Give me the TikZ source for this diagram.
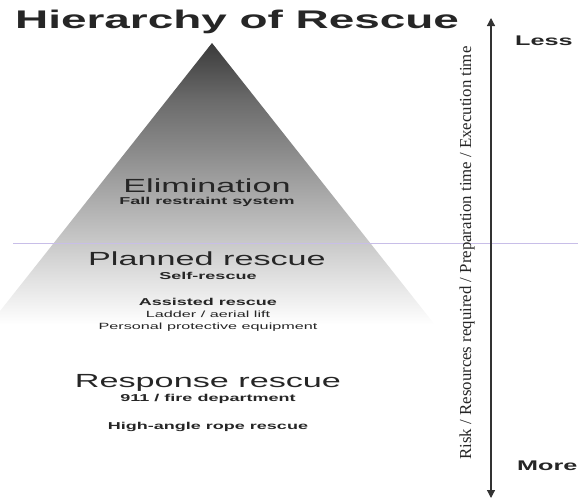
\documentclass[tikz,border=0pt]{standalone}
\usepackage{fontspec}
\setmainfont{Liberation Serif}
\newfontfamily\widesans[FakeStretch=1.8]{Liberation Sans}
\usetikzlibrary{arrows.meta}

% grey pyramid, dark at the top, gone to white at the base
\pgfdeclareverticalshading{pyramidfade}{100bp}{color(0bp)=(white); color(26bp)=(white);
  color(30bp)=(black!6); color(35.5bp)=(black!14); color(40.7bp)=(black!22);
  color(49.4bp)=(black!35); color(56.4bp)=(black!46); color(65bp)=(black!58);
  color(75bp)=(black!77); color(100bp)=(black!77)}

\definecolor{inkgray}{gray}{0.15}
\definecolor{scanline}{RGB}{200,190,232}

\begin{document}
\begin{tikzpicture}[x=1pt,y=-1pt,>={Triangle[length=8pt,width=8pt]},
                    txt/.style={inner sep=0pt,anchor=base,text=inkgray},
                    heading/.style={txt,anchor=base west,font=\widesans\bfseries\fontsize{25.5}{30}\selectfont},
                    level/.style={txt,font=\widesans\fontsize{19}{22}\selectfont},
                    sub/.style={txt,font=\widesans\bfseries\fontsize{10}{12}\selectfont},
                    note/.style={txt,font=\widesans\fontsize{9}{11}\selectfont},
                    ends/.style={txt,anchor=base west,font=\widesans\bfseries\fontsize{14}{16}\selectfont},
                    axislabel/.style={txt,rotate=90,font=\fontsize{16.8}{19}\selectfont}]

\useasboundingbox (0,0) rectangle (578,501);

% pyramid
\begin{scope}
  \clip (0,0) rectangle (578,501);
  \shade[shading=pyramidfade] (212,43) -- (439,330) -- (-15,330) -- cycle;
\end{scope}

% faint rule across the page
\draw[scanline,line width=0.8pt] (13,243) -- (578,243);

\node[heading] (title) at (15,28) {Hierarchy of Rescue};

\node[level] (elim)       at (207,192) {Elimination};
\node[sub]   (elimsub)    at (207,204) {Fall restraint system};
\node[level] (planned)    at (207,265) {Planned rescue};
\node[sub]   (plannedsub) at (208,279.5) {Self-rescue};
\node[sub]   (assisted)   at (208,305) {Assisted rescue};
\node[note]  (ladder)     at (208,317) {Ladder / aerial lift};
\node[note]  (ppe)        at (208,329) {Personal protective equipment};
\node[level] (response)   at (208,387) {Response rescue};
\node[sub]   (dept)       at (208,401) {911 / fire department};
\node[sub]   (rope)       at (208,429) {High-angle rope rescue};

% scale on the right
\coordinate (top) at (491,18);
\coordinate (bottom) at (491,498);
\draw[<->,draw=black!80,fill=black!80,line width=1.2pt] (bottom) -- (top);

\node[ends] (less) at (515,45) {Less};
\node[ends] (more) at (517,470) {More};
\node[axislabel] (measure) at (471,253) {Risk / Resources required / Preparation time / Execution time};

\end{tikzpicture}
\end{document}
